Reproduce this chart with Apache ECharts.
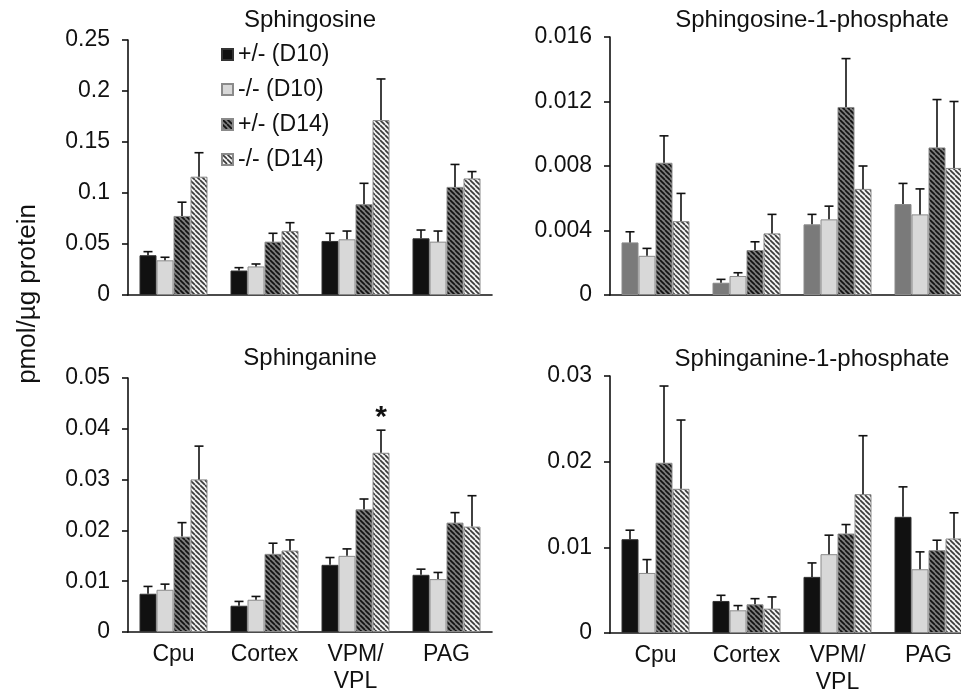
<!DOCTYPE html>
<html>
<head>
<meta charset="utf-8">
<script src="https://cdn.jsdelivr.net/npm/echarts@6/dist/echarts.min.js"></script>
<style>
  html, body { margin: 0; padding: 0; background: #fff; }
  #chart { width: 961px; height: 691px; }
</style>
</head>
<body>
<div id="chart"></div>
<script>
// categories and groups
var categories = ['Cpu', 'Cortex', 'VPM/\nVPL', 'PAG'];
var groups = ['+/- (D10)', '-/- (D10)', '+/- (D14)', '-/- (D14)'];

// Sphingosine: mean and top of error bar, one row per group
var soMean = [
    [0.039, 0.024, 0.053, 0.0556],
    [0.034, 0.028, 0.0546, 0.0523],
    [0.0775, 0.0523, 0.089, 0.106],
    [0.116, 0.0627, 0.1715, 0.1143]
];
var soTop = [
    [0.0425, 0.0268, 0.0605, 0.0637],
    [0.037, 0.0304, 0.0627, 0.0627],
    [0.091, 0.0605, 0.1095, 0.128],
    [0.1395, 0.0709, 0.2118, 0.121]
];

// Sphingosine-1-phosphate
var s1pMean = [
    [0.00326, 0.00076, 0.00438, 0.00564],
    [0.00243, 0.00118, 0.00469, 0.005],
    [0.0082, 0.00279, 0.01166, 0.00915],
    [0.00458, 0.00382, 0.00658, 0.00788]
];
var s1pTop = [
    [0.00392, 0.00097, 0.005, 0.00692],
    [0.00289, 0.00138, 0.00551, 0.00658],
    [0.00987, 0.0033, 0.01466, 0.01212],
    [0.0063, 0.005, 0.008, 0.0120]
];

// Sphinganine
var saMean = [
    [0.00753, 0.00517, 0.01322, 0.01126],
    [0.00831, 0.00635, 0.01499, 0.01041],
    [0.01878, 0.01538, 0.02415, 0.02153],
    [0.03004, 0.01604, 0.03528, 0.02075]
];
var saTop = [
    [0.00897, 0.00602, 0.01466, 0.01237],
    [0.00942, 0.007, 0.01636, 0.01172],
    [0.02153, 0.01748, 0.02618, 0.0235],
    [0.03659, 0.01813, 0.03973, 0.02683]
];

// Sphinganine-1-phosphate
var sa1pMean = [
    [0.01095, 0.00374, 0.00655, 0.01356],
    [0.00701, 0.00265, 0.0092, 0.00744],
    [0.01987, 0.00335, 0.01161, 0.00966],
    [0.01683, 0.00284, 0.01621, 0.01103]
];
var sa1pTop = [
    [0.012, 0.0044, 0.00818, 0.01706],
    [0.00857, 0.0032, 0.01142, 0.00947],
    [0.02883, 0.00401, 0.01266, 0.01083],
    [0.02486, 0.00421, 0.02303, 0.01403]
];

// significance mark: Sphinganine, VPM/VPL, -/- (D14)
var star = { panel: 2, group: 3, cat: 2, text: '*' };

var FONT = '"Liberation Sans", Arial, Helvetica, sans-serif';
var BAR_W = 17;

// diagonal hatch pattern
function hatch(bg, fg) {
    var s = 5;
    var c = document.createElement('canvas');
    c.width = s; c.height = s;
    var ctx = c.getContext('2d');
    ctx.fillStyle = bg;
    ctx.fillRect(0, 0, s, s);
    ctx.strokeStyle = fg;
    ctx.lineWidth = 1.7;
    [-s, 0, s].forEach(function (x0) {
        ctx.beginPath();
        ctx.moveTo(x0, 0);
        ctx.lineTo(x0 + s, s);
        ctx.stroke();
    });
    return { image: c, repeat: 'repeat' };
}

var fills = [
    '#111111',
    '#d8d8d8',
    hatch('#7c7c7c', '#111111'),
    hatch('#f4f4f4', '#3a3a3a')
];

var panels = [
    { title: 'Sphingosine', mean: soMean, top: soTop, max: 0.25, step: 0.05 },
    { title: 'Sphingosine-1-phosphate', mean: s1pMean, top: s1pTop, max: 0.016, step: 0.004 },
    { title: 'Sphinganine', mean: saMean, top: saTop, max: 0.05, step: 0.01 },
    { title: 'Sphinganine-1-phosphate', mean: sa1pMean, top: sa1pTop, max: 0.03, step: 0.01 }
];

var gridPos = [
    { left: 128, top: 40, width: 364, height: 255 },
    { left: 610, top: 37, width: 364, height: 258 },
    { left: 128, top: 378, width: 364, height: 254 },
    { left: 610, top: 376, width: 364, height: 257 }
];
var titlePos = [[305, 3], [807, 3], [305, 341], [807, 342]];

function errRender(params, api) {
    var cat = api.value(0), k = api.value(1);
    var base = api.coord([cat, api.value(2)]);
    var top = api.coord([cat, api.value(3)]);
    var x = base[0] + (k - 1.5) * BAR_W;
    var st = { stroke: '#111', lineWidth: 1.6 };
    return {
        type: 'group',
        children: [
            { type: 'line', shape: { x1: x, y1: base[1], x2: x, y2: top[1] }, style: st },
            { type: 'line', shape: { x1: x - 4.5, y1: top[1], x2: x + 4.5, y2: top[1] }, style: st }
        ]
    };
}

var grid = [], xAxis = [], yAxis = [], series = [], title = [];

panels.forEach(function (p, i) {
    var g = Object.assign({ outerBoundsMode: 'none', containLabel: false }, gridPos[i]);
    grid.push(g);
    title.push({
        text: p.title,
        left: titlePos[i][0],
        top: titlePos[i][1],
        textAlign: 'center',
        textStyle: { fontFamily: FONT, fontSize: 24, fontWeight: 'normal', color: '#111' }
    });
    xAxis.push({
        type: 'category',
        gridIndex: i,
        data: categories,
        axisLine: { lineStyle: { color: '#111', width: 1.6 } },
        axisTick: { show: false },
        axisLabel: {
            show: i >= 2,
            interval: 0,
            margin: 9,
            fontFamily: FONT,
            fontSize: 23,
            lineHeight: 27,
            color: '#111'
        }
    });
    yAxis.push({
        type: 'value',
        gridIndex: i,
        min: 0,
        max: p.max,
        interval: p.step,
        splitLine: { show: false },
        axisLine: { show: true, lineStyle: { color: '#111', width: 1.6 } },
        axisTick: { show: true, length: 6, lineStyle: { color: '#111', width: 1.6 } },
        axisLabel: {
            margin: 18,
            fontFamily: FONT,
            fontSize: 23,
            color: '#111',
            formatter: function (v) { return String(+v.toFixed(4)); }
        }
    });

    groups.forEach(function (gname, k) {
        var color = fills[k];
        if (i === 1 && k === 0) color = '#7a7a7a';
        var data = p.mean[k].map(function (v, c) {
            if (star.panel === i && star.group === k && star.cat === c) {
                return {
                    value: v,
                    label: {
                        show: true, position: 'top', distance: 20,
                        formatter: star.text,
                        fontFamily: FONT, fontSize: 30, fontWeight: 'bold', color: '#111'
                    }
                };
            }
            return v;
        });
        series.push({
            type: 'bar',
            name: gname,
            xAxisIndex: i,
            yAxisIndex: i,
            barWidth: BAR_W,
            barGap: '0%',
            data: data,
            itemStyle: {
                color: color,
                borderColor: k === 0 && i !== 1 ? '#333' : '#8a8a8a',
                borderWidth: 1
            },
            emphasis: { disabled: true }
        });
    });

    var errData = [];
    p.top.forEach(function (row, k) {
        row.forEach(function (t, c) {
            errData.push([c, k, p.mean[k][c], t]);
        });
    });
    series.push({
        type: 'custom',
        xAxisIndex: i,
        yAxisIndex: i,
        renderItem: errRender,
        data: errData,
        z: 5,
        silent: true
    });
});

var chart = echarts.init(document.getElementById('chart'));
chart.setOption({
    backgroundColor: '#fff',
    animation: false,
    title: title,
    grid: grid,
    xAxis: xAxis,
    yAxis: yAxis,
    legend: {
        data: groups,
        icon: 'rect',
        orient: 'vertical',
        left: 216,
        top: 38,
        itemWidth: 11,
        itemHeight: 11,
        itemGap: 12,
        selectedMode: false,
        textStyle: { fontFamily: FONT, fontSize: 23, lineHeight: 23, color: '#111' }
    },
    graphic: [{
        type: 'text',
        x: 28,
        y: 294,
        rotation: Math.PI / 2,
        style: {
            text: 'pmol/µg protein',
            font: '26px ' + FONT,
            fill: '#111',
            align: 'center',
            verticalAlign: 'middle'
        }
    }],
    series: series
});
</script>
</body>
</html>
